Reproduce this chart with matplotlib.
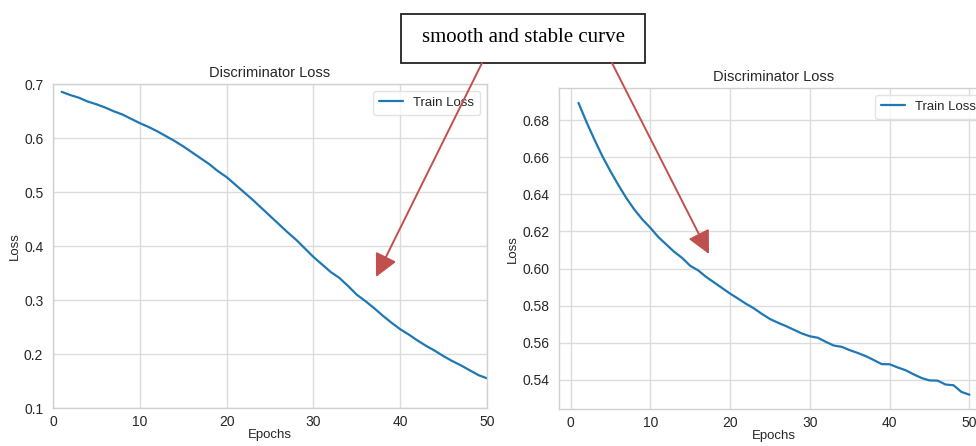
import matplotlib
matplotlib.use("Agg")
import matplotlib.pyplot as plt
from matplotlib.patches import FancyArrowPatch, Rectangle
import seaborn as sns

sns.set_style("whitegrid")
plt.rcParams["font.family"] = ["Liberation Sans", "DejaVu Sans"]

# Discriminator loss per epoch, two training runs
epochs = list(range(1, 51))

loss_run_a = [
    0.686, 0.680, 0.675, 0.668, 0.663, 0.657, 0.650, 0.644, 0.636, 0.628,
    0.621, 0.613, 0.604, 0.595, 0.585, 0.574, 0.563, 0.552, 0.539, 0.528,
    0.514, 0.500, 0.486, 0.471, 0.456, 0.441, 0.426, 0.412, 0.396, 0.380,
    0.366, 0.352, 0.341, 0.326, 0.310, 0.298, 0.285, 0.271, 0.258, 0.246,
    0.236, 0.225, 0.215, 0.206, 0.196, 0.187, 0.179, 0.170, 0.161, 0.155,
]

loss_run_b = [
    0.6893, 0.6790, 0.6695, 0.6605, 0.6525, 0.6450, 0.6380, 0.6318, 0.6265, 0.6220,
    0.6170, 0.6130, 0.6090, 0.6057, 0.6015, 0.5990, 0.5955, 0.5925, 0.5895, 0.5865,
    0.5838, 0.5810, 0.5785, 0.5755, 0.5728, 0.5708, 0.5690, 0.5670, 0.5650, 0.5635,
    0.5627, 0.5605, 0.5585, 0.5578, 0.5560, 0.5545, 0.5528, 0.5507, 0.5485, 0.5484,
    0.5467, 0.5452, 0.5430, 0.5410, 0.5397, 0.5396, 0.5375, 0.5371, 0.5335, 0.5320,
]

title = "Discriminator Loss"
series_label = "Train Loss"
note = "smooth and stable curve"

text_color = "#262626"
line_color = "#1f77b4"
arrow_color = "#c0504d"

fig = plt.figure(figsize=(9.76, 4.46), dpi=100)
ax1 = fig.add_axes([0.0543, 0.0852, 0.4447, 0.7258])
ax2 = fig.add_axes([0.5727, 0.0823, 0.4406, 0.7197])


def style_axes(ax):
    ax.set_title(title, fontsize=10.5, color=text_color, pad=5)
    ax.set_xlabel("Epochs", fontsize=9.5, color=text_color, labelpad=0)
    ax.set_ylabel("Loss", fontsize=9.5, color=text_color, labelpad=2)
    ax.tick_params(axis="x", labelsize=10, colors=text_color, pad=5, length=0)
    ax.tick_params(axis="y", labelsize=10, colors=text_color, pad=7, length=0)
    ax.grid(True, color="#dcdcdc", linewidth=1.0)
    for s in ax.spines.values():
        s.set_color("#d0d0d0")
        s.set_linewidth(1.0)
    leg = ax.legend(loc="upper right", fontsize=9.5, frameon=True,
                    handlelength=1.8, borderpad=0.45)
    leg.get_frame().set_edgecolor("#dddddd")
    for t in leg.get_texts():
        t.set_color(text_color)


ax1.plot(epochs, loss_run_a, color=line_color, linewidth=1.6, label=series_label)
ax1.set_xlim(0, 50)
ax1.set_ylim(0.1, 0.7)
ax1.set_xticks(range(0, 51, 10))
ax1.set_yticks([0.1, 0.2, 0.3, 0.4, 0.5, 0.6, 0.7])
style_axes(ax1)

ax2.plot(epochs, loss_run_b, color=line_color, linewidth=1.6, label=series_label)
ax2.set_xticks(range(0, 51, 10))
ax2.set_yticks([0.54, 0.56, 0.58, 0.60, 0.62, 0.64, 0.66, 0.68])
style_axes(ax2)

# Callout box with two arrows pointing at the curves
H = 446
box_x0, box_y0, box_x1, box_y1 = 401, 14, 645, 63
fig.add_artist(Rectangle((box_x0, H - box_y1), box_x1 - box_x0, box_y1 - box_y0,
                         transform=None, facecolor="white", edgecolor="#222222",
                         linewidth=1.3, zorder=9))
fig.text((box_x0 + box_x1) / 2, H - (box_y0 + box_y1) / 2 + 1, note,
         transform=None, ha="center", va="center", fontsize=15,
         family=["Liberation Serif", "DejaVu Serif"], color="black", zorder=11)

for start, tip in [((482, 63), (376, 277)), ((612, 63), (709, 254))]:
    fig.add_artist(FancyArrowPatch(
        (start[0], H - start[1]), (tip[0], H - tip[1]),
        transform=None, arrowstyle="-|>,head_length=1.0,head_width=0.5",
        mutation_scale=14, color=arrow_color, linewidth=1.4,
        shrinkA=0, shrinkB=0, zorder=10))

fig.savefig("out.png", dpi=100)
